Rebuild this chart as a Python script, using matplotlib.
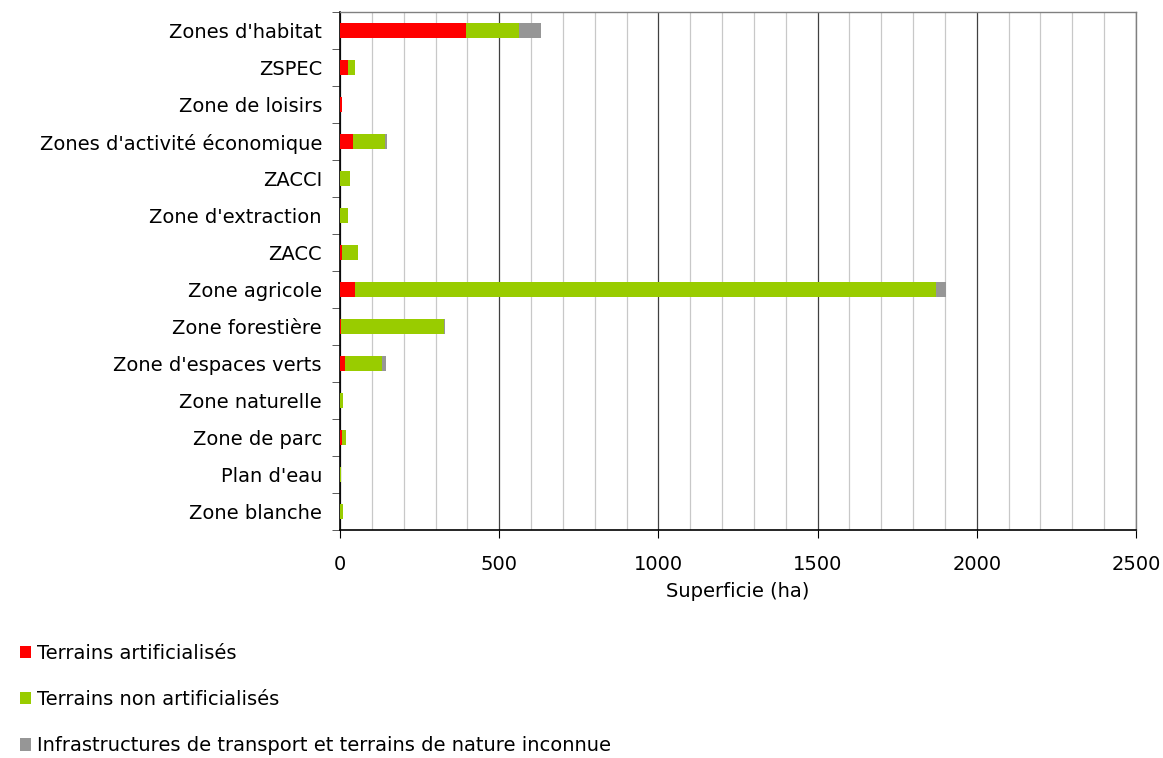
import matplotlib
matplotlib.use("Agg")
import matplotlib.pyplot as plt
import numpy as np
from matplotlib.patches import Patch
from matplotlib.ticker import MultipleLocator

categories = ["Zones d'habitat", "ZSPEC", "Zone de loisirs", "Zones d'activité économique",
              "ZACCI", "Zone d'extraction", "ZACC", "Zone agricole", "Zone forestière",
              "Zone d'espaces verts", "Zone naturelle", "Zone de parc", "Plan d'eau", "Zone blanche"]
artificialises = [396, 24, 5, 41, 0, 0, 5, 47, 3, 15, 0, 6, 1, 0]
non_artificialises = [166, 24, 0, 100, 32, 24, 51, 1824, 325, 116, 9, 14, 1.5, 9]
infrastructures = [68, 0, 0, 6, 0, 0, 0, 32, 2, 15, 0, 0, 0, 0]
series_labels = ["Terrains artificialisés", "Terrains non artificialisés",
                 "Infrastructures de transport et terrains de nature inconnue"]
colors = ["#FF0000", "#99CC00", "#969696"]

plt.rcParams['font.family'] = ['DejaVu Sans']
FS = 14
fig = plt.figure(figsize=(11.63, 7.58), dpi=100)
ax = fig.add_axes([340/1163, 1-530/758, (1136-340)/1163, (530-12)/758])

y = np.arange(len(categories))
a = np.array(artificialises, float)
n = np.array(non_artificialises, float)
i = np.array(infrastructures, float)
h = 0.42
ax.barh(y, a, height=h, color=colors[0], zorder=3)
ax.barh(y, n, left=a, height=h, color=colors[1], zorder=3)
ax.barh(y, i, left=a + n, height=h, color=colors[2], zorder=3)

ax.set_ylim(len(categories) - 0.5, -0.5)
ax.set_xlim(0, 2500)
ax.set_yticks(y)
ax.set_yticklabels(categories, fontsize=FS)
ax.tick_params(axis='y', length=0, pad=13)
ax.set_yticks(np.arange(-0.5, len(categories), 1), minor=True)
ax.tick_params(axis='y', which='minor', length=6, color='#404040', direction='out')

ax.xaxis.set_major_locator(MultipleLocator(500))
ax.xaxis.set_minor_locator(MultipleLocator(100))
ax.tick_params(axis='x', which='major', labelsize=FS, length=6, direction='out', pad=12)
ax.tick_params(axis='x', which='minor', length=0)
ax.grid(axis='x', which='major', color='#404040', linewidth=0.9, zorder=0)
ax.grid(axis='x', which='minor', color='#C8C8C8', linewidth=0.9, zorder=0)
ax.set_xlabel("Superficie (ha)", fontsize=FS, labelpad=6)

for s in ['left', 'bottom']:
    ax.spines[s].set_color('black')
    ax.spines[s].set_linewidth(1.2)
for s in ['top', 'right']:
    ax.spines[s].set_color('#808080')
    ax.spines[s].set_linewidth(1.0)

handles = [Patch(facecolor=c, edgecolor='none') for c in colors]
fig.legend(handles, series_labels, loc='upper left', bbox_to_anchor=(12/1163, 1-636/758),
           frameon=False, fontsize=FS, handlelength=0.6, handleheight=0.6,
           handletextpad=0.3, labelspacing=1.4, borderaxespad=0)

fig.savefig("out.png", dpi=100)
